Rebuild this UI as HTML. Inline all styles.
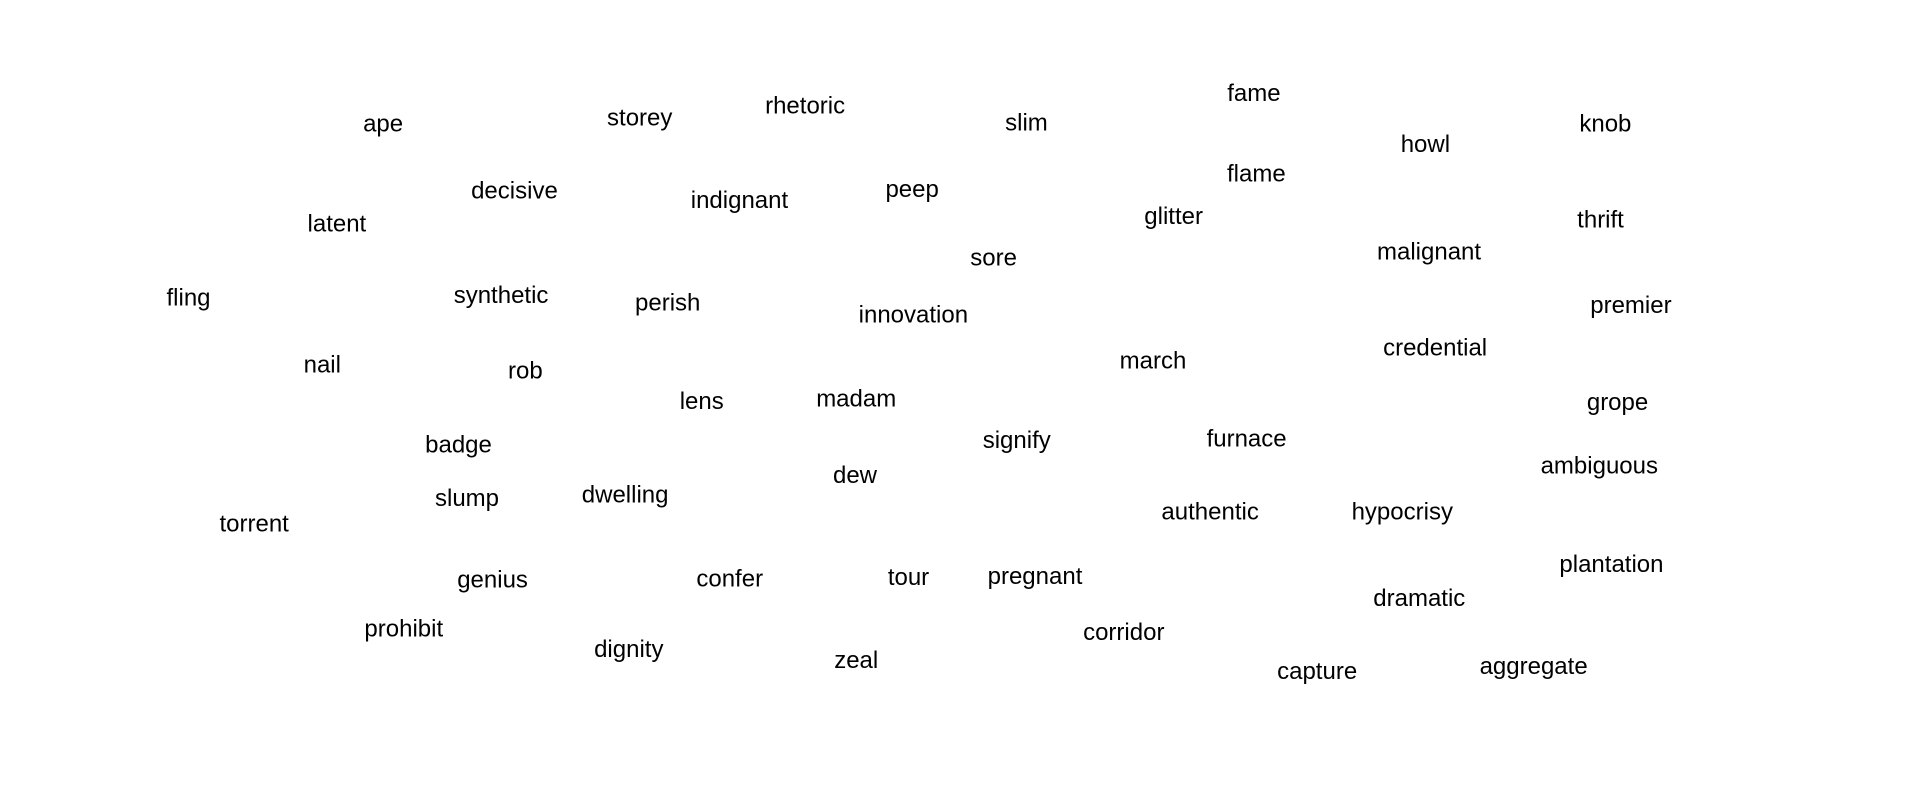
<!DOCTYPE html>
<html><head><meta charset="utf-8"><style>
html,body{margin:0;padding:0;background:#fff;}
svg{display:block;}
text{font-family:"Liberation Sans",sans-serif;font-size:24px;fill:#000;}
</style></head><body>
<svg id="chart" width="1907" height="796" viewBox="0 0 1907 796"></svg>
<script>
const words=["ape","storey","rhetoric","slim","fame","howl","knob","decisive","indignant","peep","flame","glitter","thrift","latent","sore","malignant","fling","synthetic","perish","innovation","premier","nail","rob","march","credential","lens","madam","grope","badge","signify","furnace","ambiguous","dew","slump","dwelling","torrent","authentic","hypocrisy","plantation","genius","confer","tour","pregnant","dramatic","prohibit","corridor","dignity","zeal","capture","aggregate"];
const xs=[315,526,662,844,1031,1172,1320,423,608,750,1033,965,1316,277,817,1175,155,412,549,751,1341,265,432,948,1180,577,704,1330,377,836,1025,1315,703,384,514,209,995,1153,1325,405,600,747,851,1167,332,924,517,704,1083,1261];
const ys=[102,97,87,101,77,119,102,157,165,156,143,178,181,184,212,207,245,243,249,259,251,300,305,297,286,330,328,331,366,362,361,383,391,410,407,431,421,421,464,477,476,475,474,492,517,520,534,543,552,548];
const S=1907/1568;
const sx=v=>v*S, sy=v=>v*S;
const svg=document.getElementById('chart');
words.forEach((w,i)=>{
  const t=document.createElementNS('http://www.w3.org/2000/svg','text');
  t.setAttribute('x',sx(xs[i]));
  t.setAttribute('y',sy(ys[i]));
  t.setAttribute('text-anchor','middle');
  t.setAttribute('dominant-baseline','central');
  
  
  t.textContent=w;
  svg.appendChild(t);
});
</script>
</body></html>
